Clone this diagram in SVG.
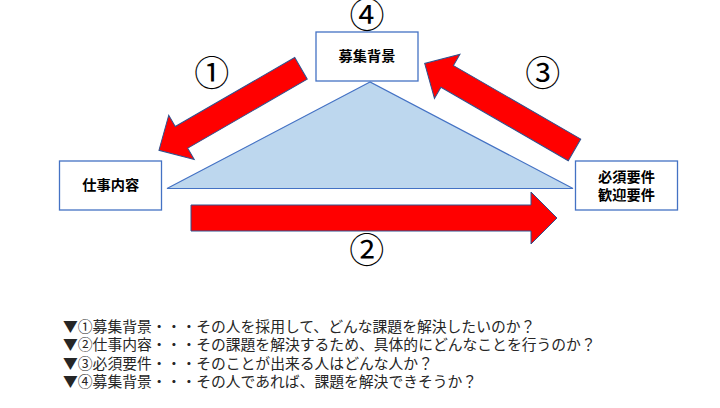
<svg xmlns="http://www.w3.org/2000/svg" width="720" height="408" viewBox="0 0 720 408">
<style>
.box{fill:#FFFFFF;stroke:#4472C4;stroke-width:1.3}
.lbl{font-family:"Noto Sans CJK JP","Noto Sans",sans-serif;font-size:14.2px;font-weight:700;fill:#000000;text-anchor:middle}
.arrow{fill:#FF0000;stroke:#2F528F;stroke-width:1}
.num{font-family:"Noto Sans CJK JP","Noto Sans",sans-serif;font-size:35px;fill:#000000;text-anchor:middle}
.note{font-family:"Noto Sans CJK JP","Noto Sans",sans-serif;font-size:14.8px;fill:#262626}
</style>
<rect width="720" height="408" fill="#FFFFFF"/>
<polygon id="triangle" points="370,82 167,188.5 573,188.5" fill="#BDD7EE" stroke="#4472C4" stroke-width="1.2"/>
<g id="connectors">
  <g id="arrow1">
    <polygon class="arrow" transform="translate(301,68.3) rotate(150)" points="0,-12.5 138,-12.5 138,-25.5 164,0 138,25.5 138,12.5 0,12.5"/>
    <text class="num" x="211.7" y="85.6">①</text>
  </g>
  <g id="arrow2">
    <polygon class="arrow" transform="translate(191,218)" points="0,-13 340,-13 340,-26 366,0 340,26 340,13 0,13"/>
    <text class="num" x="366.7" y="263.3">②</text>
  </g>
  <g id="arrow3">
    <polygon class="arrow" transform="translate(574.5,149.9) rotate(210)" points="0,-12.5 147,-12.5 147,-25.5 173,0 147,25.5 147,12.5 0,12.5"/>
    <text class="num" x="542.7" y="86.3">③</text>
  </g>
</g>
<g id="node-boshu">
  <text class="num" x="367" y="28.3">④</text>
  <rect class="box" x="316" y="32" width="102" height="49"/>
  <text class="lbl" x="367" y="61.4">募集背景</text>
</g>
<g id="node-shigoto">
  <rect class="box" x="59.5" y="161" width="102" height="49"/>
  <text class="lbl" x="110.7" y="190.4">仕事内容</text>
</g>
<g id="node-yoken">
  <rect class="box" x="575.5" y="161" width="102" height="49"/>
  <text class="lbl" x="626.5" y="182.2">必須要件</text>
  <text class="lbl" x="626.5" y="199.8">歓迎要件</text>
</g>
<g id="notes">
  <text class="note" x="63" y="332.3">▼①募集背景・・・その人を採用して、どんな課題を解決したいのか？</text>
  <text class="note" x="63" y="350.3">▼②仕事内容・・・その課題を解決するため、具体的にどんなことを行うのか？</text>
  <text class="note" x="63" y="368.5">▼③必須要件・・・そのことが出来る人はどんな人か？</text>
  <text class="note" x="63" y="386.5">▼④募集背景・・・その人であれば、課題を解決できそうか？</text>
</g>
</svg>
